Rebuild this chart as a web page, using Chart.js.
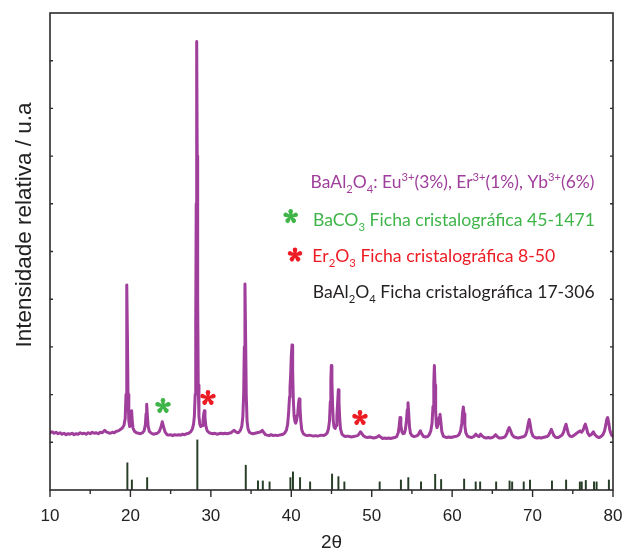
<!DOCTYPE html>
<html>
<head>
<meta charset="utf-8">
<script src="https://cdn.jsdelivr.net/npm/chart.js@4/dist/chart.umd.min.js"></script>
<style>
  html, body { margin: 0; padding: 0; background: #ffffff; }
  #wrap { width: 623px; height: 555px; }
</style>
</head>
<body>
<div id="wrap"><canvas id="xrd" width="623" height="555"></canvas></div>
<script>
// Measured diffraction pattern (2θ in degrees, relative intensity)
const twoTheta = [
  10.0,10.25,10.5,10.75,11.0,11.25,11.5,11.75,12.0,12.25,
  12.5,12.75,13.0,13.25,13.5,13.75,14.0,14.25,14.5,14.75,
  15.0,15.25,15.5,15.75,16.0,16.25,16.5,16.8,17.0,17.25,
  17.5,17.75,18.0,18.25,18.5,18.75,19.0,19.2,19.35,19.45,
  19.52,19.57,19.62,19.7,19.8,19.9,20.0,20.08,20.15,20.22,
  20.32,20.5,20.75,21.0,21.25,21.5,21.7,21.85,21.95,22.02,
  22.1,22.2,22.35,22.6,22.85,23.1,23.35,23.6,23.8,23.96,
  24.1,24.3,24.55,24.8,25.0,25.25,25.5,25.75,26.0,26.25,
  26.5,26.75,27.0,27.25,27.5,27.7,27.85,27.95,28.05,28.12,
  28.18,28.24,28.3,28.36,28.43,28.52,28.62,28.75,28.9,29.02,
  29.12,29.19,29.27,29.38,29.55,29.8,30.0,30.25,30.5,30.75,
  31.0,31.25,31.5,31.75,32.0,32.25,32.5,32.7,32.9,33.1,
  33.3,33.5,33.7,33.85,33.98,34.08,34.16,34.24,34.32,34.4,
  34.5,34.62,34.8,35.0,35.25,35.5,35.75,36.0,36.2,36.4,
  36.6,36.8,37.0,37.25,37.5,37.75,38.0,38.25,38.5,38.75,
  39.0,39.2,39.4,39.55,39.68,39.78,39.84,39.92,40.0,40.09,
  40.17,40.25,40.35,40.45,40.55,40.65,40.8,40.92,41.0,41.08,
  41.18,41.3,41.5,41.75,42.0,42.25,42.5,42.75,43.0,43.25,
  43.5,43.75,44.0,44.25,44.45,44.62,44.75,44.85,44.92,44.98,
  45.05,45.13,45.22,45.32,45.45,45.57,45.67,45.77,45.85,45.93,
  46.02,46.12,46.3,46.5,46.75,47.0,47.25,47.5,47.75,48.0,
  48.25,48.45,48.6,48.75,48.95,49.2,49.5,49.75,50.0,50.25,
  50.5,50.75,50.9,51.1,51.35,51.6,51.85,52.1,52.35,52.6,
  52.85,53.1,53.3,53.42,53.52,53.62,53.75,53.9,54.05,54.18,
  54.3,54.42,54.51,54.6,54.7,54.82,55.0,55.25,55.5,55.75,
  55.95,56.05,56.2,56.45,56.7,56.95,57.15,57.35,57.5,57.62,
  57.72,57.79,57.87,57.95,58.05,58.13,58.25,58.38,58.49,58.6,
  58.72,58.9,59.1,59.35,59.6,59.85,60.1,60.35,60.6,60.85,
  61.05,61.2,61.3,61.39,61.48,61.58,61.7,61.9,62.15,62.4,
  62.7,62.95,63.1,63.35,63.55,63.75,64.0,64.25,64.5,64.75,
  65.0,65.2,65.4,65.6,65.85,66.1,66.35,66.6,66.8,66.95,
  67.1,67.25,67.45,67.7,67.95,68.2,68.45,68.7,68.95,69.15,
  69.3,69.45,69.59,69.72,69.85,70.05,70.3,70.55,70.8,71.05,
  71.3,71.55,71.8,72.0,72.15,72.33,72.48,72.65,72.9,73.15,
  73.4,73.65,73.85,74.0,74.16,74.3,74.45,74.65,74.9,75.1,
  75.4,75.65,75.9,76.1,76.3,76.45,76.56,76.7,76.85,77.05,
  77.3,77.55,77.75,78.0,78.25,78.5,78.75,78.95,79.1,79.22,
  79.34,79.46,79.6,79.8,80.0
];
const intensity = [
  12.0,12.2,11.9,12.1,11.8,12.0,11.7,11.9,11.6,11.8,
  11.7,11.9,11.6,11.8,11.7,12.0,11.8,11.9,11.7,12.0,
  11.8,12.1,11.9,12.0,11.8,12.1,12.0,12.5,12.2,12.0,
  11.9,12.1,12.0,12.3,12.4,12.7,13.0,13.6,15.0,20.0,
  32.0,43.0,33.0,20.0,14.5,13.3,13.4,14.5,16.6,14.6,
  13.0,12.3,12.0,11.9,11.8,12.0,12.4,13.6,16.0,18.0,
  15.8,13.4,12.3,11.9,11.7,11.8,11.9,12.3,13.2,14.3,
  13.4,12.2,11.6,11.5,11.6,11.4,11.6,11.5,11.6,11.5,
  11.7,11.6,11.8,11.9,12.2,12.8,13.8,15.5,20.0,35.0,
  60.0,94.0,70.0,40.0,22.0,15.5,13.8,13.3,13.5,14.5,
  16.0,16.6,15.2,13.4,12.4,12.0,11.9,11.8,11.9,11.7,
  11.8,11.9,11.8,11.9,11.8,11.9,12.0,12.3,12.5,12.2,
  12.0,12.1,12.6,13.4,15.5,20.0,30.0,43.2,32.0,20.0,
  14.5,12.8,12.1,11.9,11.8,11.9,12.0,12.1,12.2,12.5,
  12.0,11.6,11.5,11.4,11.6,11.4,11.5,11.4,11.5,11.6,
  11.7,12.0,12.6,13.8,16.5,19.5,21.5,24.0,28.0,30.4,
  25.0,19.0,15.5,14.4,14.0,14.5,16.0,18.5,19.1,17.5,
  14.5,12.6,11.8,11.5,11.4,11.5,11.4,11.3,11.4,11.3,
  11.4,11.5,11.4,11.6,11.9,12.8,14.5,18.5,23.0,26.1,
  23.0,18.0,14.5,13.2,12.9,13.5,15.5,18.5,21.0,18.5,
  15.0,12.8,11.7,11.4,11.2,11.3,11.2,11.1,11.2,11.3,
  11.4,11.8,12.2,11.9,11.4,11.1,11.0,11.1,11.0,10.9,
  11.0,11.2,11.4,11.1,10.8,10.9,10.8,10.9,10.8,10.9,
  11.0,11.2,12.0,13.5,15.2,13.6,12.2,11.8,11.9,12.6,
  14.2,16.8,18.3,16.0,13.2,11.9,11.4,11.2,11.3,11.5,
  12.1,12.4,11.8,11.2,11.1,11.2,11.6,12.4,14.0,17.5,
  22.5,26.1,22.0,16.5,13.4,13.1,13.8,15.2,15.9,14.2,
  12.2,11.3,11.1,11.0,11.1,11.0,11.1,11.2,11.3,11.6,
  12.4,14.0,16.2,17.4,16.0,13.5,12.0,11.3,11.1,11.0,
  11.2,11.7,11.4,11.2,11.7,11.3,11.0,10.9,11.0,10.9,
  11.0,11.2,11.6,11.2,10.9,10.9,11.0,11.2,11.8,12.6,
  13.1,12.5,11.6,11.1,11.0,10.9,11.0,11.1,11.2,11.6,
  12.4,13.8,14.8,13.6,12.2,11.3,11.0,10.9,11.0,10.9,
  11.0,11.1,11.2,11.5,12.0,12.7,12.1,11.4,11.0,11.0,
  11.2,11.5,12.1,13.0,13.8,12.8,11.8,11.3,11.2,11.4,
  11.8,12.1,12.4,12.1,12.6,13.4,13.8,13.0,12.0,11.4,
  11.6,12.2,11.6,11.2,11.0,11.2,11.6,12.4,13.6,14.8,
  15.2,14.2,12.6,11.6,11.2
];

// Reference card lines for BaAl2O4 (17-306)
const refPositions = [19.62,20.18,22.08,28.32,34.34,35.86,36.46,37.3,39.89,40.21,41.09,42.34,45.07,45.86,46.6,50.99,53.63,54.55,56.13,57.89,58.63,61.49,62.93,63.48,65.47,67.14,67.46,68.9,69.68,72.41,74.17,75.88,76.11,76.62,77.64,77.96,79.49];
const refHeights   = [5.7,2.1,2.6,10.5,5.2,1.9,1.9,1.7,2.6,3.8,2.6,1.7,3.35,2.8,1.7,1.7,2.1,2.6,1.7,3.3,2.2,2.3,1.7,1.7,1.7,1.9,1.7,1.7,2.1,1.9,2.1,1.7,1.7,2.0,1.7,1.7,2.1];

// Impurity phase markers (BaCO3, Er2O3, Er2O3)
const markerTheta     = [24.05, 29.64, 48.54];
const markerIntensity = [17.6, 19.3, 15.1];
const markerColors    = ['#3fb549', '#ed1c24', '#ed1c24'];

// Axis ticks
const xMajorTicks = [10, 20, 30, 40, 50, 60, 70, 80];
const xMinorTicks = [15, 25, 35, 45, 55, 65, 75];
const yTicks = [10, 20, 30, 40, 50, 60, 70, 80, 90];

const PURPLE = '#9f3e9b';
const AXIS = '#2b2b2b';
const LEGEND_FONT = 'Lato, "Open Sans", sans-serif';
const AXIS_FONT = '"Liberation Sans", Arial, sans-serif';
const Y_TITLE = 'Intensidade relativa / u.a';

function drawAsterisk(ctx, cx, cy, r, color) {
  ctx.save();
  ctx.fillStyle = color;
  ctx.translate(cx, cy);
  for (let k = 0; k < 5; k++) {
    ctx.save();
    ctx.rotate(k * 2 * Math.PI / 5);
    ctx.beginPath();
    ctx.moveTo(-1.0, 0);
    ctx.lineTo(-2.3, -r + 2.3);
    ctx.arc(0, -r + 2.3, 2.3, Math.PI, 0);
    ctx.lineTo(1.0, 0);
    ctx.closePath();
    ctx.fill();
    ctx.restore();
  }
  ctx.beginPath();
  ctx.arc(0, 0, 1.8, 0, 2 * Math.PI);
  ctx.fill();
  ctx.restore();
}

// Rich text: plain strings, {sub:'..'} and {sup:'..'}; squeezed to a target width
function drawRich(ctx, parts, x, y, width, color, size) {
  const small = size * 0.64;
  const seg = parts.map(p => {
    if (typeof p === 'string') return { t: p, fs: size, dy: 0 };
    if (p.sub !== undefined) return { t: p.sub, fs: small, dy: size * 0.3 };
    return { t: p.sup, fs: small, dy: -size * 0.42 };
  });
  let total = 0;
  seg.forEach(s => { ctx.font = s.fs + 'px ' + LEGEND_FONT; s.w = ctx.measureText(s.t).width; total += s.w; });
  const k = width / total;
  ctx.save();
  ctx.translate(x, y);
  ctx.scale(k, 1);
  ctx.fillStyle = color;
  ctx.textBaseline = 'alphabetic';
  ctx.textAlign = 'left';
  let cx = 0;
  seg.forEach(s => { ctx.font = s.fs + 'px ' + LEGEND_FONT; ctx.fillText(s.t, cx, s.dy); cx += s.w; });
  ctx.restore();
}

const legendLines = [
  { parts: ['BaAl', {sub:'2'}, 'O', {sub:'4'}, ': Eu', {sup:'3+'}, '(3%), Er', {sup:'3+'}, '(1%), Yb', {sup:'3+'}, '(6%)'],
    x: 310.5, y: 188, w: 284, color: PURPLE },
  { parts: ['BaCO', {sub:'3'}, ' Ficha cristalográfica 45-1471'], x: 313, y: 225.5, w: 282, color: '#3fb549' },
  { parts: ['Er', {sub:'2'}, 'O', {sub:'3'}, ' Ficha cristalográfica 8-50'], x: 312.3, y: 261.5, w: 243, color: '#ed1c24' },
  { parts: ['BaAl', {sub:'2'}, 'O', {sub:'4'}, ' Ficha cristalográfica 17-306'], x: 312.7, y: 298, w: 282, color: '#231f20' }
];

const framePlugin = {
  id: 'frameAndNotes',
  afterDraw(chart) {
    const { ctx, chartArea: a, scales: { x, y } } = chart;
    ctx.save();
    ctx.strokeStyle = AXIS;
    ctx.lineWidth = 1.6;
    ctx.strokeRect(a.left, a.top, a.right - a.left, a.bottom - a.top);
    ctx.lineWidth = 1.4;
    ctx.beginPath();
    xMajorTicks.forEach(v => { const p = x.getPixelForValue(v); ctx.moveTo(p, a.bottom); ctx.lineTo(p, a.bottom + 7); });
    xMinorTicks.forEach(v => { const p = x.getPixelForValue(v); ctx.moveTo(p, a.bottom); ctx.lineTo(p, a.bottom + 4); });
    yTicks.forEach(v => {
      const p = y.getPixelForValue(v);
      ctx.moveTo(a.left, p); ctx.lineTo(a.left + 3, p);
      ctx.moveTo(a.right, p); ctx.lineTo(a.right - 3, p);
    });
    ctx.stroke();

    markerTheta.forEach((t, i) => {
      drawAsterisk(ctx, x.getPixelForValue(t), y.getPixelForValue(markerIntensity[i]), 8, markerColors[i]);
    });

    legendLines.forEach(l => drawRich(ctx, l.parts, l.x, l.y, l.w, l.color, 17));
    drawAsterisk(ctx, 290.7, 216.5, 7.5, '#3fb549');
    drawAsterisk(ctx, 295, 255, 7.5, '#ed1c24');

    // vertical axis title
    ctx.save();
    ctx.translate(25, 225);
    ctx.rotate(-Math.PI / 2);
    ctx.font = '22.5px ' + AXIS_FONT;
    ctx.fillStyle = '#222222';
    ctx.textAlign = 'center';
    ctx.textBaseline = 'middle';
    ctx.fillText(Y_TITLE, 0, 0);
    ctx.restore();

    ctx.restore();
  }
};

new Chart(document.getElementById('xrd'), {
  data: {
    datasets: [
      {
        type: 'line',
        data: twoTheta.map((t, i) => ({ x: t, y: intensity[i] })),
        borderColor: PURPLE,
        borderWidth: 3,
        borderJoinStyle: 'round',
        borderCapStyle: 'round',
        pointRadius: 0,
        tension: 0,
        order: 1
      },
      {
        type: 'bar',
        data: refPositions.map((t, i) => ({ x: t, y: refHeights[i] })),
        backgroundColor: '#263d26',
        barThickness: 1.3,
        order: 2
      }
    ]
  },
  options: {
    responsive: false,
    animation: false,
    devicePixelRatio: 1,
    layout: { padding: { left: 50, right: 10, top: 13, bottom: 0 } },
    plugins: { legend: { display: false }, tooltip: { enabled: false } },
    scales: {
      x: {
        type: 'linear', min: 10, max: 80, offset: false,
        grid: { display: false, drawTicks: false },
        border: { display: false },
        ticks: {
          stepSize: 10, autoSkip: false, maxRotation: 0, padding: 16,
          color: '#222222', font: { family: AXIS_FONT, size: 17 }
        },
        title: {
          display: true, text: '2θ', color: '#222222',
          font: { family: AXIS_FONT, size: 19 },
          padding: { top: 0, bottom: 1 }
        },
        afterFit(scale) {
          scale.height = 65;
          scale.paddingLeft = 0;
          scale.paddingRight = 0;
        }
      },
      y: {
        type: 'linear', min: 0, max: 100, display: false
      }
    }
  },
  plugins: [framePlugin]
});
</script>
</body>
</html>
